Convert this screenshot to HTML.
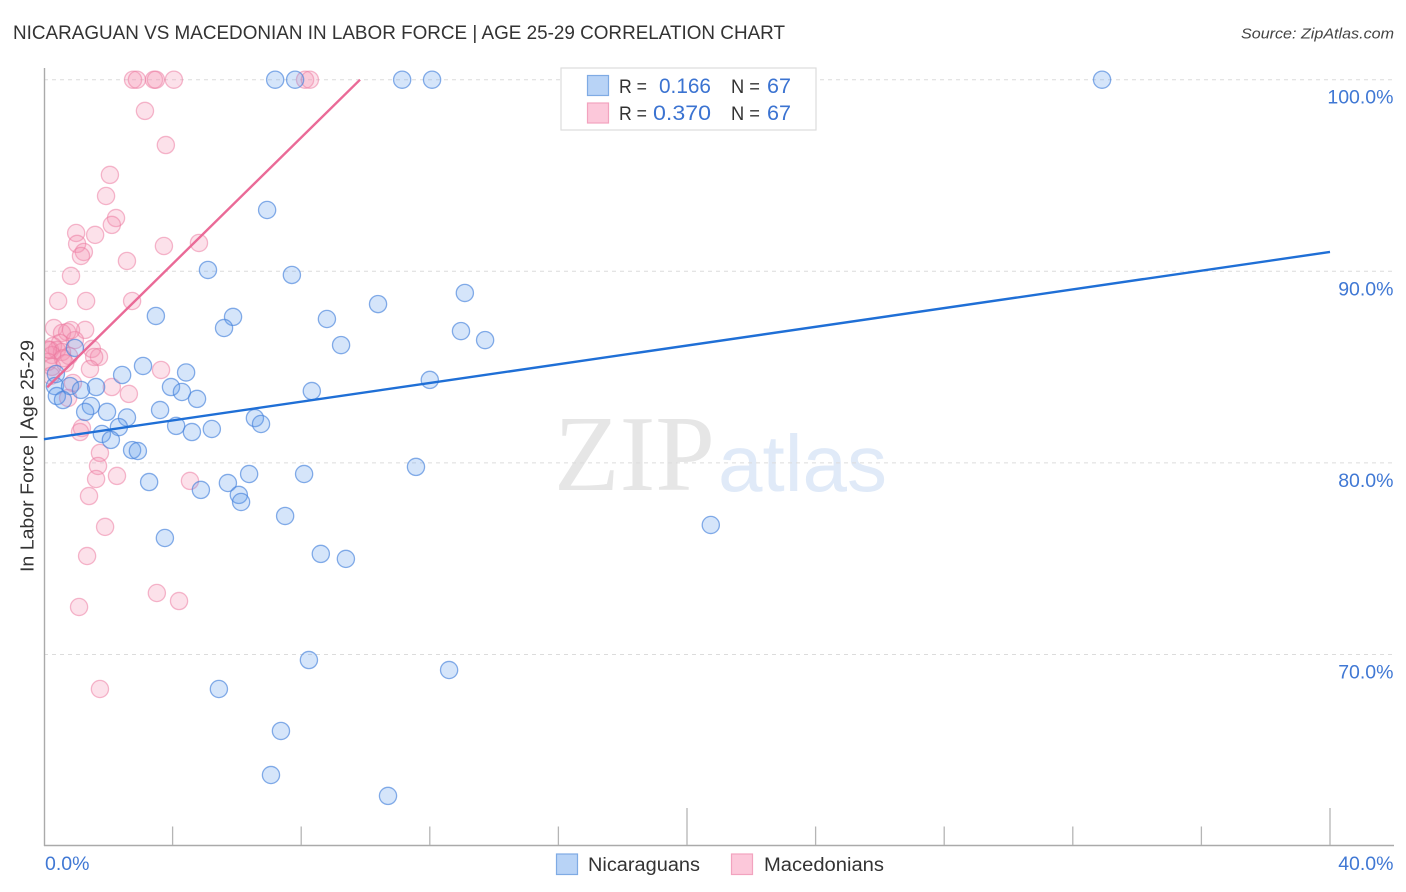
<!DOCTYPE html>
<html lang="en">
<head>
<meta charset="utf-8">
<title>Nicaraguan vs Macedonian in Labor Force | Age 25-29 Correlation Chart</title>
<style>
html,body{margin:0;padding:0;background:#fff;width:1406px;height:892px;overflow:hidden}
svg{display:block;font-family:"Liberation Sans",sans-serif}
</style>
</head>
<body>
<svg id="chart" xmlns="http://www.w3.org/2000/svg" width="1406" height="892" viewBox="0 0 1406 892">
  <defs>
    <clipPath id="plot-clip"><rect x="45" y="60" width="1349" height="785"/></clipPath>
  </defs>
  <text x="13" y="39" font-size="19.5" fill="#333" textLength="772" lengthAdjust="spacingAndGlyphs">NICARAGUAN VS MACEDONIAN IN LABOR FORCE | AGE 25-29 CORRELATION CHART</text>
  <text x="1241" y="38.5" font-size="15" font-style="italic" fill="#444" textLength="153" lengthAdjust="spacingAndGlyphs">Source: ZipAtlas.com</text>

  <g>
    <text x="554" y="490" font-family="'Liberation Serif',serif" font-size="108" fill="#e6e6e6" textLength="161" lengthAdjust="spacingAndGlyphs">ZIP</text>
    <text x="718" y="491" font-size="80" fill="#e0eaf8" textLength="169" lengthAdjust="spacingAndGlyphs">atlas</text>
  </g>

  <g id="grid"></g>
  <g id="axes"></g>
  <g id="pink-points" clip-path="url(#plot-clip)"></g>
  <g id="blue-points" clip-path="url(#plot-clip)"></g>
  <g id="trends"></g>
  <g id="labels"></g>

  <text transform="translate(33.5,456) rotate(-90)" text-anchor="middle" font-size="18.5" fill="#333" textLength="232" lengthAdjust="spacingAndGlyphs">In Labor Force | Age 25-29</text>

  <g>
    <rect x="561" y="68" width="255" height="62" fill="#fff" stroke="#ddd" stroke-width="1.2"/>
    <rect x="587.5" y="75.5" width="21" height="20" fill="#b8d3f6" stroke="#7fabe4" stroke-width="1.2"/>
    <rect x="587.5" y="103" width="21" height="20" fill="#fcc8da" stroke="#f2a3bf" stroke-width="1.2"/>
    <text x="619" y="93" font-size="19" fill="#333" textLength="28" lengthAdjust="spacingAndGlyphs">R =</text>
    <text x="659" y="93" font-size="21.5" fill="#3b73d1" textLength="52" lengthAdjust="spacingAndGlyphs">0.166</text>
    <text x="731" y="93" font-size="19" fill="#333" textLength="29" lengthAdjust="spacingAndGlyphs">N =</text>
    <text x="767" y="93" font-size="21.5" fill="#3b73d1" textLength="24" lengthAdjust="spacingAndGlyphs">67</text>
    <text x="619" y="120" font-size="19" fill="#333" textLength="28" lengthAdjust="spacingAndGlyphs">R =</text>
    <text x="653" y="120" font-size="21.5" fill="#3b73d1" textLength="58" lengthAdjust="spacingAndGlyphs">0.370</text>
    <text x="731" y="120" font-size="19" fill="#333" textLength="29" lengthAdjust="spacingAndGlyphs">N =</text>
    <text x="767" y="120" font-size="21.5" fill="#3b73d1" textLength="24" lengthAdjust="spacingAndGlyphs">67</text>
  </g>

  <g>
    <g>
      <rect x="556.5" y="854" width="21" height="20.5" fill="#b8d3f6" stroke="#7fabe4" stroke-width="1.2"/>
      <text x="588" y="871" font-size="19.6" fill="#333" textLength="112" lengthAdjust="spacingAndGlyphs">Nicaraguans</text>
    </g>
    <g>
      <rect x="731.5" y="854" width="21" height="20.5" fill="#fcc8da" stroke="#f2a3bf" stroke-width="1.2"/>
      <text x="764" y="871" font-size="19.6" fill="#333" textLength="120" lengthAdjust="spacingAndGlyphs">Macedonians</text>
    </g>
  </g>
</svg>

<script>
const blueX = [32.91,7.19,7.81,11.14,12.07,6.94,5.10,7.71,13.09,10.39,3.48,5.88,8.80,5.60,12.97,13.72,9.24,0.96,3.08,4.42,2.43,12.00,0.37,1.62,3.95,4.29,8.33,4.76,0.34,0.81,1.15,0.40,0.59,1.46,1.96,1.28,3.61,2.58,2.33,6.56,6.75,4.11,5.22,1.80,4.60,2.08,2.74,2.92,3.27,5.72,6.38,8.09,11.57,4.88,6.06,6.13,7.50,20.74,3.76,8.61,9.39,8.24,12.60,5.44,7.37,7.06,10.70];
const blueY = [100,100,100,100,100,93.20,90.07,89.81,88.87,88.29,87.67,87.62,87.51,87.04,86.88,86.41,86.15,86.00,85.06,84.72,84.59,84.33,84.64,83.96,83.96,83.70,83.75,83.34,84.01,84.01,83.81,83.49,83.28,82.97,82.66,82.66,82.76,82.37,81.87,82.34,82.03,81.93,81.77,81.51,81.61,81.20,80.67,80.62,79.00,78.95,79.42,79.42,79.79,78.59,78.33,77.96,77.23,76.76,76.08,75.25,74.99,69.71,69.19,68.20,66.01,63.71,62.62];
const pinkX = [2.77,2.89,3.42,3.48,4.04,8.12,8.27,3.14,3.79,2.05,1.93,2.24,2.11,1.00,1.59,1.03,1.24,1.15,3.73,4.82,2.58,0.84,0.44,1.31,2.74,0.31,1.28,0.72,0.56,0.96,1.49,1.71,1.56,1.43,3.64,0.50,0.28,0.19,0.40,0.56,0.25,0.78,0.59,0.12,0.25,0.90,2.11,2.64,0.75,1.18,1.12,1.74,1.68,1.62,2.27,4.54,1.40,1.90,1.34,3.51,4.20,1.09,1.74,0.12,0.84,0.66,0.22];
const pinkY = [100,100,100,100,100,100,100,98.37,96.59,95.03,93.93,92.78,92.42,92.00,91.90,91.43,91.01,90.80,91.32,91.48,90.54,89.76,88.45,88.45,88.45,87.04,86.94,86.83,86.78,86.41,85.95,85.53,85.53,84.90,84.85,86.26,86.10,85.89,85.89,85.79,85.63,85.58,85.46,85.27,85.01,84.17,83.96,83.60,83.39,81.82,81.61,80.52,79.84,79.16,79.32,79.06,78.27,76.66,75.14,73.21,72.79,72.48,68.20,85.92,86.93,85.20,84.55];
const blueTrendX = [0,40];
const blueTrendY = [81.24,91.01];
const pinkTrendX = [0.1,9.83];
const pinkTrendY = [83.95,100];
const yTickValues = [100,90,80,70];
const yTickLabels = ["100.0%","90.0%","80.0%","70.0%"];
const xTickValues = [4,8,12,16,20,24,28,32,36,40];
const xTickMajor = [20,40];
const xEndValues = [0,40];
const xEndLabels = ["0.0%","40.0%"];

const NS = 'http://www.w3.org/2000/svg';
const xScale = v => 44 + v * 32.15;
const yScale = v => 79.7 + (100 - v) * 19.16;

function make(tag, attrs, parent, text) {
  const el = document.createElementNS(NS, tag);
  for (const k in attrs) el.setAttribute(k, attrs[k]);
  if (text !== undefined) el.textContent = text;
  parent.appendChild(el);
  return el;
}

const gridG = document.getElementById('grid');
const axesG = document.getElementById('axes');
const labelsG = document.getElementById('labels');
const pinkG = document.getElementById('pink-points');
const blueG = document.getElementById('blue-points');
const trendsG = document.getElementById('trends');

yTickValues.forEach((v, i) => {
  const ln = make('line', {x1: 44, x2: 1394, y1: yScale(v), y2: yScale(v), stroke: '#dcdcdc', 'stroke-width': 1, 'stroke-dasharray': '4 4'}, gridG);
  
  
  const t = make('text', {x: 1393.5, y: yScale(v) + 24, 'text-anchor': 'end', 'font-size': 19.5, fill: '#4078d4'}, labelsG, yTickLabels[i]);
  
  
});

const yAxis = make('line', {x1: 44.5, x2: 44.5, y1: 68, y2: 846, stroke: '#aaa', 'stroke-width': 1.4}, axesG);


const xAxis = make('line', {x1: 44, x2: 1394, y1: 845.5, y2: 845.5, stroke: '#aaa', 'stroke-width': 1.4}, axesG);



xTickValues.forEach(v => {
  const top = xTickMajor.includes(v) ? 808 : 826.5;
  const tk = make('line', {x1: xScale(v), x2: xScale(v), y1: top, y2: 845, stroke: '#b5b5b5', 'stroke-width': 1.3}, axesG);
  
  
});

xEndValues.forEach((v, i) => {
  const t = make('text', {
    x: i === 0 ? xScale(v) + 1 : 1393.5,
    y: 870,
    'text-anchor': i === 0 ? 'start' : 'end',
    'font-size': 19.5,
    fill: '#4078d4'
  }, labelsG, xEndLabels[i]);
  
  
});

pinkX.forEach((v, i) => {
  const c = make('circle', {cx: xScale(v), cy: yScale(pinkY[i]), r: 8.6, fill: 'rgba(244,143,177,0.27)', stroke: 'rgba(236,120,160,0.52)', 'stroke-width': 1.3}, pinkG);
  
  
});

blueX.forEach((v, i) => {
  const c = make('circle', {cx: xScale(v), cy: yScale(blueY[i]), r: 8.6, fill: 'rgba(100,160,235,0.27)', stroke: 'rgba(70,130,220,0.65)', 'stroke-width': 1.3}, blueG);
  
  
});

const blueLine = make('line', {x1: xScale(blueTrendX[0]), y1: yScale(blueTrendY[0]), x2: xScale(blueTrendX[1]), y2: yScale(blueTrendY[1]), stroke: '#1f6fd6', 'stroke-width': 2.4}, trendsG);


const pinkLine = make('line', {x1: xScale(pinkTrendX[0]), y1: yScale(pinkTrendY[0]), x2: xScale(pinkTrendX[1]), y2: yScale(pinkTrendY[1]), stroke: '#ea6a97', 'stroke-width': 2.4}, trendsG);


</script>
</body>
</html>
